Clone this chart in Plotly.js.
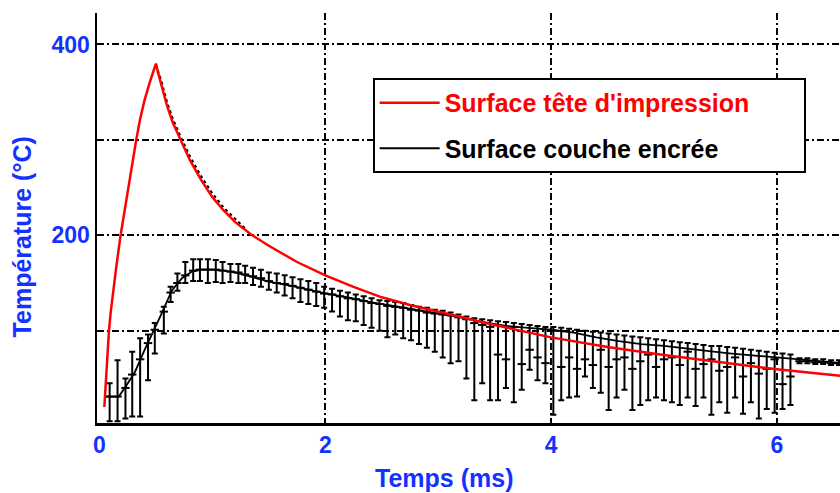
<!DOCTYPE html>
<html>
<head>
<meta charset="utf-8">
<script src="https://cdn.plot.ly/plotly-3.0.1.min.js"></script>
<style>html,body{margin:0;padding:0;background:#fff;}#chart{width:840px;height:493px;}</style>
</head>
<body>
<div id="chart"></div>
<script>
// Red series: Surface tête d'impression
const redT = [0.043,0.06,0.084,0.10,0.12,0.15,0.187,0.23,0.28,0.324,0.36,0.40,0.45,0.50,0.52,0.55,0.60,0.65,0.72,0.80,0.90,1.00,1.10,1.20,1.34,1.50,1.75,2.00,2.25,2.50,2.75,3.00,3.50,4.00,4.50,5.00,5.50,6.00,6.30,6.58];
const redV = [20,55,100,120,142,168,200,232,268,299,322,342,362,380,370,357,335,318,299,279,258,240,226,214,201,189,172,158,146,135,127,120,106,93,83,74.5,67,59.5,56,52.5];

// Black dotted trace hugging the red decay (measured head surface)
const headMeasT = [0.50,0.55,0.60,0.65,0.72,0.80,0.90,1.00,1.10,1.20,1.30];
const headMeasV = [379,361,339,322,303,283,262,244,229,217,206];

// Black series: Surface couche encrée (mean line)
const blackT = [0.05,0.17,0.23,0.315,0.40,0.48,0.55,0.64,0.73,0.82,0.90,1.00,1.10,1.20,1.30,1.40,1.52,1.70,1.85,2.00,2.20,2.40,2.60,2.80,3.00,3.20,3.40,3.60,3.80,4.00,4.20,4.40,4.60,4.80,5.00,5.20,5.40,5.60,5.80,6.00,6.10,6.30,6.58];
const blackV = [31,31,41,57,80,100,118,142,155,162,164,164,163,161,158,155,151,147,143,139,135,130,126,122,118,114,109,105,103,101,98,93,89,86,84,81,78.5,76,74,72,71,69,66];

// Measurements with error bars (top, bottom, mark)
const measT = [0.09,0.16,0.23,0.29,0.36,0.43,0.49,0.57,0.63,0.69,0.76,0.83,0.89,0.96,1.03,1.09,1.16,1.23,1.29,1.36,1.43,1.50,1.57,1.64,1.71,1.78,1.85,1.92,1.99,2.06,2.13,2.20,2.27,2.34,2.41,2.48,2.55,2.62,2.69,2.76,2.83,2.90,2.97,3.04,3.11,3.18,3.25,3.32,3.39,3.46,3.53,3.60,3.67,3.74,3.81,3.88,3.95,4.02,4.09,4.16,4.23,4.30,4.37,4.44,4.51,4.58,4.65,4.72,4.79,4.86,4.93,5.00,5.07,5.14,5.21,5.28,5.35,5.42,5.49,5.56,5.63,5.70,5.77,5.84,5.91,5.98,6.05,6.12,6.20,6.27,6.34,6.41,6.48,6.55];
const measHi = [45,69,50,78,92,96,108,125,146,160,172,175,175,175,174,172,170,170,168,166,164,161,160,158,156,154,152,150,146,144,142,140,138,136,134,132,131,130,129,127,125,124,122,121,119,117,115,113,112,111,110,109,108,107,106,105,104,104,103,102,101,100,99,98,97,96,95,94,93,92,91,90,89,88,87,86,85,84,84,83,82,81,80,79,78,77,76,75,71,71,70,70,69,69];
const measLo = [5,5,8,10,10,48,76,97,130,142,150,152,152,150,151,150,151,150,150,148,146,143,140,137,134,130,128,126,124,120,115,111,110,106,103,100,93,96,92,90,86,82,78,72,66,68,50,27,45,27,27,40,25,38,59,48,45,12,27,30,31,52,40,35,17,30,38,17,22,27,30,27,25,22,30,21,30,12,25,14,30,13,25,8,18,14,18,22,66,66,65,65,64,64];
const measMid = [31,31,40,54,70,87,101,120,140,150,158,163,164,164,164,163,162,161,159,157,155,152,150,149,147,145,143,141,139,138,136,134,133,131,129,128,126,125,124,122,121,119,118,117,116,114,112,108,106,104,75,70,104,65,80,72,66,100,62,72,60,70,64,80,62,70,72,60,68,75,62,70,72,64,78,60,65,70,58,62,72,52,66,55,60,70,44,52,68,68,67,67,66,66];

const tickBlue = 'rgb(20,50,255)';
const fontFam = 'Liberation Sans, Arial, sans-serif';
const legendPad = '&nbsp;&nbsp;&nbsp;&nbsp;&nbsp;&nbsp;&nbsp;';

const plus = measHi.map((h, i) => h - measMid[i]);
const minus = measLo.map((l, i) => measMid[i] - l);

const traces = [
  {
    x: measT, y: measMid, type: 'scatter', mode: 'markers', showlegend: false, hoverinfo: 'skip',
    marker: {symbol: 'line-ew', size: 6, color: 'black', line: {width: 2, color: 'black'}},
    error_y: {type: 'data', symmetric: false, array: plus, arrayminus: minus, color: 'black', thickness: 2, width: 3}
  },
  {
    x: blackT, y: blackV, type: 'scatter', mode: 'lines', legendgroup: 'b', legendrank: 2,
    name: '<span style="color:black">Surface couche encrée</span>' + legendPad,
    line: {color: 'black', width: 1.8}
  },
  {
    x: headMeasT, y: headMeasV, type: 'scatter', mode: 'lines', showlegend: false, hoverinfo: 'skip',
    line: {color: 'black', width: 2, dash: 'dot'}
  },
  {
    x: redT, y: redV, type: 'scatter', mode: 'lines', line: {color: '#ff0000', width: 2.5}, legendgroup: 'a', legendrank: 1,
    name: '<span style="color:#ff0000">Surface tête d\'impression</span>' + legendPad
  },
  { x: [], y: [], xaxis: 'x2', type: 'scatter', showlegend: false, hoverinfo: 'skip' }
];

const gridStyle = {showgrid: true, gridcolor: 'black', gridwidth: 2, griddash: '7px,3px,2px,3px'};

const layout = {
  width: 840, height: 493,
  margin: {l: 97, r: 0, t: 13, b: 70},
  paper_bgcolor: 'white', plot_bgcolor: 'white',
  showlegend: true,
  legend: {
    x: 0.371, y: 0.8415, xanchor: 'left', yanchor: 'top',
    bgcolor: 'white', bordercolor: 'black', borderwidth: 2,
    font: {family: fontFam, size: 25, weight: 'bold', color: 'black'},
    traceorder: 'grouped', tracegroupgap: 10, itemwidth: 60
  },
  xaxis: {
    range: [-0.022, 6.559], tickvals: [0, 2, 4, 6], ticktext: ['0', '2', '4', '6'],
    showgrid: false, zeroline: false, showline: true, linecolor: 'black', linewidth: 2.5,
    ticks: '', tickfont: {family: fontFam, size: 23, weight: 'bold', color: tickBlue}
  },
  xaxis2: Object.assign({
    overlaying: 'x', range: [-0.022, 6.559], tickvals: [2, 4, 6], showticklabels: false,
    zeroline: false, showline: false, ticks: ''
  }, gridStyle),
  yaxis: Object.assign({
    range: [3.25, 433], tickvals: [100, 200, 300, 400], ticktext: ['', '200', '', '400'],
    zeroline: false, showline: true, linecolor: 'black', linewidth: 2.5,
    ticks: '', tickfont: {family: fontFam, size: 23, weight: 'bold', color: tickBlue}
  }, gridStyle),
  annotations: [
    {text: 'Température (°C)', xref: 'paper', yref: 'paper', x: -0.101, y: 0.455, textangle: -90,
     xanchor: 'center', yanchor: 'middle', showarrow: false,
     font: {family: fontFam, size: 25, weight: 'bold', color: tickBlue}},
    {text: 'Temps (ms)', xref: 'paper', yref: 'paper', x: 0.467, y: -0.135,
     xanchor: 'center', yanchor: 'middle', showarrow: false,
     font: {family: fontFam, size: 25, weight: 'bold', color: tickBlue}}
  ]
};

Plotly.newPlot('chart', traces, layout, {displayModeBar: false, staticPlot: true});
</script>
</body>
</html>
